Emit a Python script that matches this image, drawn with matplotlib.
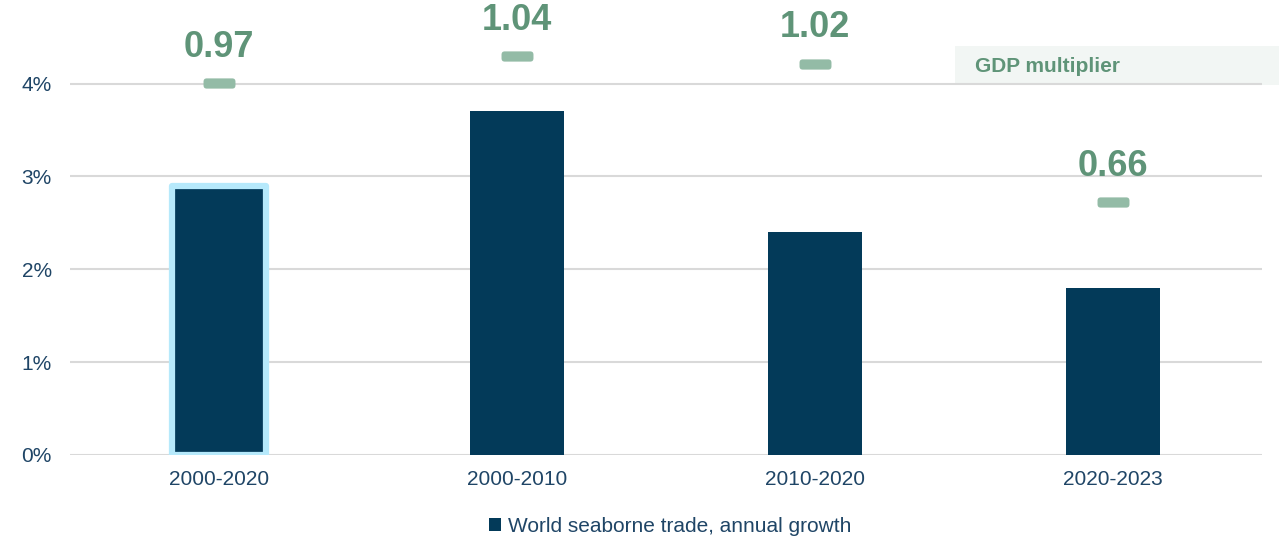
import matplotlib.pyplot as plt
from matplotlib.patches import Rectangle, Patch, BoxStyle

periods = ["2000-2020", "2000-2010", "2010-2020", "2020-2023"]
trade_growth = [2.9, 3.7, 2.4, 1.8]   # % per year
gdp_multiplier = [0.97, 1.04, 1.02, 0.66]

NAVY = "#033a59"
TEXT = "#1f4566"
GREEN = "#5f9478"
GREEN_LIGHT = "#93bba6"
HIGHLIGHT = "#b6e9fb"

plt.rcParams["font.family"] = ["Liberation Sans", "DejaVu Sans"]

fig = plt.figure(figsize=(12.79, 5.40), dpi=100)
ax = fig.add_axes([70 / 1279, 1 - 455 / 540, 1192 / 1279, 455 / 540])
ax.patch.set_visible(False)

x = range(len(periods))
bars = ax.bar(x, trade_growth, width=0.315, color=NAVY, zorder=3)
# first period is the headline one
bars[0].set_edgecolor(HIGHLIGHT)
bars[0].set_linewidth(4.5)
bars[0].set_joinstyle("round")

ax.set_xlim(-0.5, 3.5)
ax.set_ylim(0, 4.9)
ax.set_yticks([0, 1, 2, 3, 4])
ax.set_yticklabels([f"{t}%" for t in range(5)])
ax.set_xticks(list(x))
ax.set_xticklabels(periods)
ax.tick_params(axis="y", length=0, pad=13, labelsize=15, labelcolor=TEXT)
ax.tick_params(axis="x", length=0, pad=11, labelsize=15, labelcolor=TEXT)
ax.grid(axis="y", color="#d9d9d9", linewidth=1.5, zorder=0)
for s in ax.spines.values():
    s.set_visible(False)

# pill-shaped marker for the multiplier
pill = BoxStyle.Round(pad=0, rounding_size=0.1)(-0.5, -0.16, 1.0, 0.32, 1.0)

# multiplier on its own hidden scale
ax2 = ax.twinx()
ax2.set_ylim(0, 4.9 / 4.13)
ax2.axis("off")
ax2.plot(x, gdp_multiplier, linestyle="none", marker=pill, markersize=23,
         markeredgewidth=0, color=GREEN_LIGHT, zorder=4)
for xi, m in zip(x, gdp_multiplier):
    ax2.annotate(f"{m:.2f}", (xi, m), xytext=(0, 19), textcoords="offset points",
                 ha="center", va="baseline", fontsize=26, fontweight="bold",
                 color=GREEN)

# header box for the multiplier series
fig.patches.append(Rectangle((955 / 1279, 1 - 85 / 540), 324 / 1279, 39 / 540,
                             transform=fig.transFigure, facecolor="#f2f6f4",
                             edgecolor="none", zorder=-1))
fig.text(975 / 1279, 1 - 67 / 540, "GDP multiplier", fontsize=15,
         fontweight="bold", color=GREEN, va="center", ha="left")

fig.legend(handles=[Patch(facecolor=NAVY)],
           labels=["World seaborne trade, annual growth"],
           loc="center", bbox_to_anchor=(670 / 1279, 1 - 526 / 540),
           frameon=False, fontsize=15, labelcolor=TEXT,
           handlelength=0.6, handleheight=0.6, handletextpad=0.3)

fig.savefig("out.png", dpi=100)
